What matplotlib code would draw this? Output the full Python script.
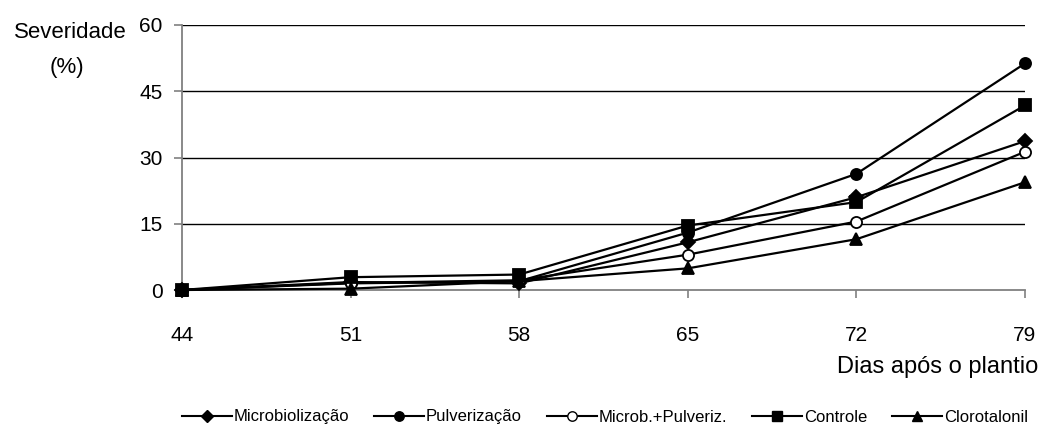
import matplotlib
matplotlib.use("Agg")
import matplotlib.pyplot as plt
from matplotlib.lines import Line2D

plt.rcParams['font.family'] = ['Liberation Sans', 'DejaVu Sans']

days = [44, 51, 58, 65, 72, 79]
series_names = ["Microbiolização", "Pulverização", "Microb.+Pulveriz.", "Controle", "Clorotalonil"]
microbiolizacao = [0, 1.8, 1.5, 10.8, 21.0, 33.7]
pulverizacao = [0, 1.5, 2.0, 13.0, 26.3, 51.3]
microb_pulveriz = [0, 1.6, 2.2, 8.0, 15.5, 31.3]
controle = [0, 2.9, 3.5, 14.6, 19.9, 41.8]
clorotalonil = [0, 0.3, 2.0, 4.9, 11.5, 24.4]
yticks = [0, 15, 30, 45, 60]

values = [microbiolizacao, pulverizacao, microb_pulveriz, controle, clorotalonil]
markers = ['D', 'o', 'o', 's', '^']
faces = ['black', 'black', 'white', 'black', 'black']
sizes = [7, 8, 8, 8, 9]

W, H = 1040, 426
fig = plt.figure(figsize=(W/100, H/100), dpi=100)
left, right, top, bottom = 182, 1025, 25, 290
ax = fig.add_axes([left/W, 1-bottom/H, (right-left)/W, (bottom-top)/H])

for name, v, m, fc, s in zip(series_names, values, markers, faces, sizes):
    ax.plot(days, v, color='black', lw=1.6, marker=m, markersize=s,
            markerfacecolor=fc, markeredgecolor='black', markeredgewidth=1.3,
            label=name, clip_on=False, zorder=3)

ax.set_xlim(44, 79)
ax.set_ylim(0, 60)
ax.set_xticks(days)
ax.set_yticks(yticks)
for y in yticks[1:]:
    ax.axhline(y, color='black', lw=1.0, zorder=1)
for s in ['top', 'right']:
    ax.spines[s].set_visible(False)
for s in ['left', 'bottom']:
    ax.spines[s].set_color('#808080')
    ax.spines[s].set_linewidth(1.3)
ax.tick_params(axis='both', direction='out', length=6, width=1.2, color='#808080',
               labelsize=15)
ax.tick_params(axis='y', pad=8)
ax.tick_params(axis='x', pad=20)

fig.text(70/W, 1-33/H, "Severidade", ha='center', va='center', fontsize=16)
fig.text(67/W, 1-68/H, "(%)", ha='center', va='center', fontsize=16)
fig.text(1038/W, 1-367/H, "Dias após o plantio", ha='right', va='center', fontsize=17)

handles = [Line2D([], [], color='black', lw=1.5, marker=m, markersize=s*0.85,
                  markerfacecolor=fc, markeredgecolor='black')
           for m, fc, s in zip(markers, faces, sizes)]
fig.legend(handles, series_names, loc='center', bbox_to_anchor=(605/W, 1-417/H),
           ncol=5, frameon=False, fontsize=12, handlelength=3.0, handletextpad=0.1,
           columnspacing=1.5, borderpad=0)

fig.savefig("out.png", dpi=100)
